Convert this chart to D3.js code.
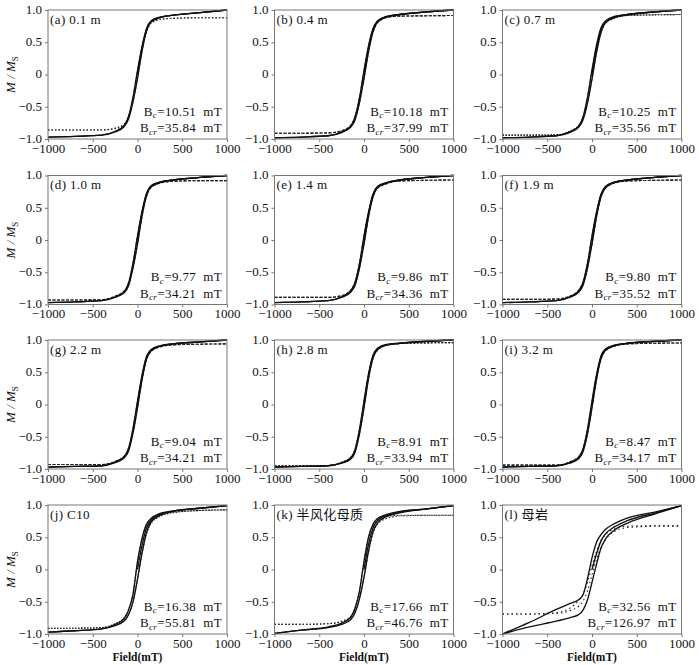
<!DOCTYPE html>
<html>
<head>
<meta charset="utf-8">
<script src="https://cdn.jsdelivr.net/npm/d3@7"></script>
<style>
body { margin: 0; background: #fff; }
text { font-family: "Liberation Serif", "Noto Sans CJK SC", serif; }
</style>
</head>
<body>
<div id="vis"></div>
<script>
// panel captions and coercivity values
const panelLabels = ['(a) 0.1 m', '(b) 0.4 m', '(c) 0.7 m', '(d) 1.0 m', '(e) 1.4 m', '(f) 1.9 m',
    '(g) 2.2 m', '(h) 2.8 m', '(i) 3.2 m', '(j) C10', '(k) 半风化母质', '(l) 母岩'];
const bcValues = ['10.51', '10.18', '10.25', '9.77', '9.86', '9.80', '9.04', '8.91', '8.47', '16.38', '17.66', '32.56'];
const bcrValues = ['35.84', '37.99', '35.56', '34.21', '34.36', '35.52', '34.21', '33.94', '34.17', '55.81', '46.76', '126.97'];

const xTicks = [-1000, -500, 0, 500, 1000];
const yTicks = [-1, -0.5, 0, 0.5, 1];

// applied field (mT) where the loop branches were read
const field = [-1000, -700, -400, -250, -150, -100, -50, 0, 50, 100, 150, 250, 400, 700, 1000];
const virginField = [0, 50, 100, 150, 250, 400, 700, 1000];

// ascending (lower) branch, M/Ms
const ascending = [
    [-0.97, -0.96, -0.94, -0.89, -0.81, -0.69, -0.42, -0.06, 0.36, 0.67, 0.81, 0.88, 0.92, 0.96, 1.00],
    [-0.98, -0.97, -0.95, -0.90, -0.82, -0.70, -0.43, -0.06, 0.35, 0.66, 0.81, 0.89, 0.93, 0.97, 1.00],
    [-0.98, -0.97, -0.95, -0.90, -0.82, -0.70, -0.44, -0.07, 0.34, 0.65, 0.80, 0.88, 0.93, 0.97, 1.00],
    [-0.97, -0.96, -0.94, -0.89, -0.82, -0.71, -0.43, -0.06, 0.37, 0.68, 0.82, 0.89, 0.93, 0.97, 1.00],
    [-0.97, -0.96, -0.94, -0.89, -0.81, -0.70, -0.43, -0.06, 0.36, 0.67, 0.81, 0.88, 0.93, 0.97, 1.00],
    [-0.97, -0.96, -0.94, -0.89, -0.81, -0.70, -0.43, -0.06, 0.36, 0.67, 0.81, 0.89, 0.93, 0.97, 1.00],
    [-0.97, -0.96, -0.95, -0.90, -0.83, -0.72, -0.44, -0.05, 0.38, 0.70, 0.83, 0.90, 0.94, 0.97, 1.00],
    [-0.97, -0.96, -0.95, -0.91, -0.85, -0.74, -0.45, -0.05, 0.40, 0.72, 0.85, 0.92, 0.95, 0.98, 1.00],
    [-0.97, -0.96, -0.95, -0.91, -0.84, -0.73, -0.45, -0.05, 0.39, 0.71, 0.84, 0.91, 0.95, 0.98, 1.00],
    [-0.97, -0.95, -0.92, -0.87, -0.80, -0.70, -0.50, -0.15, 0.25, 0.57, 0.73, 0.84, 0.90, 0.95, 0.99],
    [-0.99, -0.94, -0.90, -0.85, -0.78, -0.67, -0.45, -0.12, 0.28, 0.58, 0.72, 0.82, 0.88, 0.94, 0.99],
    [-1.00, -0.89, -0.80, -0.75, -0.70, -0.63, -0.47, -0.20, 0.08, 0.33, 0.47, 0.61, 0.72, 0.86, 0.99]
];

// descending (upper) branch, M/Ms
const descending = [
    [-0.97, -0.96, -0.94, -0.88, -0.79, -0.65, -0.35, 0.06, 0.43, 0.71, 0.83, 0.89, 0.92, 0.96, 1.00],
    [-0.98, -0.97, -0.95, -0.89, -0.80, -0.66, -0.36, 0.06, 0.44, 0.71, 0.83, 0.90, 0.93, 0.97, 1.00],
    [-0.98, -0.97, -0.95, -0.89, -0.80, -0.66, -0.35, 0.07, 0.45, 0.72, 0.83, 0.90, 0.93, 0.97, 1.00],
    [-0.97, -0.96, -0.94, -0.88, -0.80, -0.67, -0.36, 0.06, 0.44, 0.72, 0.84, 0.90, 0.93, 0.97, 1.00],
    [-0.97, -0.96, -0.94, -0.88, -0.79, -0.66, -0.36, 0.06, 0.43, 0.71, 0.83, 0.89, 0.93, 0.97, 1.00],
    [-0.97, -0.96, -0.94, -0.88, -0.79, -0.66, -0.36, 0.06, 0.43, 0.71, 0.83, 0.90, 0.93, 0.97, 1.00],
    [-0.97, -0.96, -0.95, -0.89, -0.81, -0.68, -0.37, 0.05, 0.45, 0.74, 0.85, 0.91, 0.94, 0.97, 1.00],
    [-0.97, -0.96, -0.95, -0.90, -0.83, -0.70, -0.38, 0.05, 0.47, 0.76, 0.87, 0.93, 0.95, 0.98, 1.00],
    [-0.97, -0.96, -0.95, -0.90, -0.82, -0.69, -0.38, 0.05, 0.46, 0.75, 0.86, 0.92, 0.95, 0.98, 1.00],
    [-0.97, -0.95, -0.92, -0.85, -0.76, -0.63, -0.38, 0.12, 0.48, 0.70, 0.79, 0.87, 0.91, 0.95, 0.99],
    [-0.99, -0.94, -0.89, -0.83, -0.74, -0.60, -0.33, 0.12, 0.50, 0.70, 0.79, 0.85, 0.90, 0.94, 0.99],
    [-1.00, -0.82, -0.62, -0.53, -0.47, -0.39, -0.14, 0.18, 0.42, 0.54, 0.62, 0.71, 0.80, 0.89, 0.99]
];

// initial magnetisation curve from zero field
const virgin = [
    [0, 0.40, 0.69, 0.82, 0.885, 0.92, 0.96, 1.00],
    [0, 0.40, 0.69, 0.82, 0.895, 0.93, 0.97, 1.00],
    [0, 0.40, 0.69, 0.82, 0.89, 0.93, 0.97, 1.00],
    [0, 0.41, 0.70, 0.83, 0.895, 0.93, 0.97, 1.00],
    [0, 0.40, 0.69, 0.82, 0.885, 0.93, 0.97, 1.00],
    [0, 0.40, 0.69, 0.82, 0.895, 0.93, 0.97, 1.00],
    [0, 0.42, 0.72, 0.84, 0.905, 0.94, 0.97, 1.00],
    [0, 0.44, 0.74, 0.86, 0.925, 0.95, 0.98, 1.00],
    [0, 0.43, 0.73, 0.85, 0.915, 0.95, 0.98, 1.00],
    [0, 0.37, 0.64, 0.76, 0.855, 0.905, 0.95, 0.99],
    [0, 0.39, 0.64, 0.76, 0.835, 0.89, 0.94, 0.99],
    [0, 0.24, 0.44, 0.55, 0.66, 0.76, 0.875, 0.99]
];

// paramagnetic-corrected loop, ascending and descending
const corrAscending = [
    [-0.86, -0.86, -0.86, -0.84, -0.79, -0.68, -0.42, -0.06, 0.35, 0.65, 0.79, 0.85, 0.87, 0.88, 0.88],
    [-0.91, -0.91, -0.905, -0.88, -0.81, -0.69, -0.43, -0.06, 0.34, 0.65, 0.80, 0.88, 0.905, 0.91, 0.915],
    [-0.94, -0.94, -0.935, -0.89, -0.81, -0.69, -0.44, -0.07, 0.33, 0.64, 0.79, 0.87, 0.915, 0.925, 0.93],
    [-0.93, -0.93, -0.925, -0.88, -0.81, -0.70, -0.43, -0.06, 0.36, 0.67, 0.81, 0.88, 0.91, 0.92, 0.92],
    [-0.89, -0.89, -0.89, -0.87, -0.80, -0.69, -0.43, -0.06, 0.35, 0.66, 0.80, 0.87, 0.915, 0.925, 0.93],
    [-0.92, -0.92, -0.915, -0.88, -0.80, -0.69, -0.43, -0.06, 0.35, 0.66, 0.80, 0.88, 0.915, 0.925, 0.93],
    [-0.93, -0.93, -0.93, -0.89, -0.82, -0.71, -0.44, -0.05, 0.37, 0.69, 0.82, 0.89, 0.925, 0.935, 0.94],
    [-0.95, -0.95, -0.945, -0.905, -0.84, -0.73, -0.45, -0.05, 0.39, 0.71, 0.84, 0.915, 0.945, 0.955, 0.96],
    [-0.94, -0.94, -0.94, -0.90, -0.83, -0.72, -0.45, -0.05, 0.38, 0.70, 0.83, 0.905, 0.94, 0.95, 0.955],
    [-0.91, -0.91, -0.90, -0.86, -0.79, -0.69, -0.50, -0.15, 0.24, 0.55, 0.71, 0.82, 0.88, 0.915, 0.925],
    [-0.85, -0.85, -0.84, -0.81, -0.76, -0.66, -0.45, -0.12, 0.27, 0.56, 0.70, 0.79, 0.83, 0.84, 0.84],
    [-0.69, -0.69, -0.68, -0.64, -0.57, -0.49, -0.33, -0.08, 0.16, 0.34, 0.46, 0.59, 0.65, 0.67, 0.67]
];

const corrDescending = [
    [-0.86, -0.86, -0.86, -0.83, -0.77, -0.64, -0.35, 0.06, 0.42, 0.69, 0.81, 0.86, 0.87, 0.88, 0.88],
    [-0.91, -0.91, -0.905, -0.87, -0.79, -0.65, -0.36, 0.06, 0.43, 0.70, 0.82, 0.89, 0.905, 0.91, 0.915],
    [-0.94, -0.94, -0.935, -0.88, -0.79, -0.65, -0.35, 0.07, 0.44, 0.71, 0.82, 0.89, 0.915, 0.925, 0.93],
    [-0.93, -0.93, -0.925, -0.87, -0.79, -0.66, -0.36, 0.06, 0.43, 0.71, 0.83, 0.89, 0.91, 0.92, 0.92],
    [-0.89, -0.89, -0.89, -0.86, -0.78, -0.65, -0.36, 0.06, 0.42, 0.70, 0.82, 0.88, 0.915, 0.925, 0.93],
    [-0.92, -0.92, -0.915, -0.87, -0.78, -0.65, -0.36, 0.06, 0.42, 0.70, 0.82, 0.89, 0.915, 0.925, 0.93],
    [-0.93, -0.93, -0.93, -0.88, -0.80, -0.67, -0.37, 0.05, 0.44, 0.73, 0.84, 0.90, 0.925, 0.935, 0.94],
    [-0.95, -0.95, -0.945, -0.895, -0.82, -0.69, -0.38, 0.05, 0.46, 0.75, 0.86, 0.925, 0.945, 0.955, 0.96],
    [-0.94, -0.94, -0.94, -0.89, -0.81, -0.68, -0.38, 0.05, 0.45, 0.74, 0.85, 0.915, 0.94, 0.95, 0.955],
    [-0.91, -0.91, -0.90, -0.84, -0.75, -0.62, -0.38, 0.12, 0.47, 0.68, 0.77, 0.85, 0.89, 0.915, 0.925],
    [-0.85, -0.85, -0.84, -0.80, -0.73, -0.59, -0.33, 0.12, 0.49, 0.68, 0.77, 0.82, 0.84, 0.84, 0.84],
    [-0.69, -0.69, -0.67, -0.60, -0.48, -0.38, -0.20, 0.06, 0.28, 0.45, 0.54, 0.63, 0.67, 0.68, 0.68]
];

class HysteresisGrid {
    constructor() {
        this.config = {
            width: 700,
            height: 665,
            colLeft: [48, 274.5, 502.5],
            rowTop: [10, 175.5, 340, 505],
            plotW: 179,
            plotH: 129,
        };
        // dash style of the corrected loop per panel
        this.dash = ['1.5,2', '3,1.5', '1.5,1.5', '3,1.5', '3,1.5', '3,1.5', '3,1.5', '2,1.5', '3,1.5', '1.5,1.5', '1.5,2', '1.5,3'];
        this.initVis();
    }
    initVis() {
        let vis = this;
        vis.svg = d3.select('#vis')
            .append('svg')
            .attr('width', vis.config.width)
            .attr('height', vis.config.height);
        vis.x = d3.scaleLinear().domain([-1000, 1000]).range([0, vis.config.plotW]);
        vis.y = d3.scaleLinear().domain([-1, 1]).range([vis.config.plotH, 0]);
    }
    addCoercivity(g, y, sub, value) {
        const t = g.append('text')
            .attr('x', this.config.plotW - 5)
            .attr('y', y)
            .attr('text-anchor', 'end')
            .attr('font-size', 13)
            .attr('letter-spacing', 0.4)
            .attr('fill', '#111');
        t.append('tspan').text('B');
        t.append('tspan').attr('dy', 2.5).attr('font-size', 9).attr('font-style', 'italic').text(sub);
        t.append('tspan').attr('dy', -2.5).text(`=${value}\u2002mT`);
    }
    renderVis() {
        let vis = this;
        const cfg = vis.config;
        const line = d3.line()
            .x(d => vis.x(d[0]))
            .y(d => vis.y(d[1]))
            .curve(d3.curveMonotoneX);
        const yFmt = d => d === 0 ? '0' : d3.format('.1f')(d);

        panelLabels.forEach((label, i) => {
            const row = Math.floor(i / 3), col = i % 3;
            const g = vis.svg.append('g')
                .attr('transform', `translate(${cfg.colLeft[col]},${cfg.rowTop[row]})`);

            // corrected loop (dashed / dotted)
            [corrAscending[i], corrDescending[i]].forEach(vals => {
                g.append('path')
                    .attr('d', line(field.map((f, k) => [f, vals[k]])))
                    .attr('fill', 'none')
                    .attr('stroke', '#222')
                    .attr('stroke-width', 1.1)
                    .attr('stroke-dasharray', vis.dash[i]);
            });

            // measured loop and initial curve
            [ascending[i], descending[i]].forEach(vals => {
                g.append('path')
                    .attr('d', line(field.map((f, k) => [f, vals[k]])))
                    .attr('fill', 'none')
                    .attr('stroke', '#111')
                    .attr('stroke-width', 1.35);
            });
            g.append('path')
                .attr('d', line(virginField.map((f, k) => [f, virgin[i][k]])))
                .attr('fill', 'none')
                .attr('stroke', '#111')
                .attr('stroke-width', 1.35);

            // frame
            g.append('rect')
                .attr('width', cfg.plotW)
                .attr('height', cfg.plotH)
                .attr('fill', 'none')
                .attr('stroke', '#777')
                .attr('stroke-width', 1);

            const xAxis = g.append('g')
                .attr('transform', `translate(0,${cfg.plotH})`)
                .call(d3.axisBottom(vis.x).tickValues(xTicks).tickFormat(d3.format('d')).tickSize(3).tickPadding(1.5));
            const yAxis = g.append('g')
                .call(d3.axisLeft(vis.y).tickValues(yTicks).tickFormat(yFmt).tickSize(3).tickPadding(3));
            [xAxis, yAxis].forEach(ax => {
                ax.select('.domain').remove();
                ax.selectAll('line').attr('stroke', '#777');
                ax.selectAll('text')
                    .attr('fill', '#111')
                    .style('font-family', '"Liberation Serif", serif')
                    .style('font-size', '13px');
            });
            yAxis.selectAll('text').attr('dy', '0.26em');

            g.append('text')
                .attr('x', 2)
                .attr('y', 13.5)
                .attr('font-size', 13)
                .attr('letter-spacing', 0.4)
                .attr('fill', '#111')
                .text(label);

            vis.addCoercivity(g, cfg.plotH - 23.5, 'c', bcValues[i]);
            vis.addCoercivity(g, cfg.plotH - 7, 'cr', bcrValues[i]);

            if (col === 0) {
                const yl = g.append('text')
                    .attr('transform', `translate(-33,${cfg.plotH / 2}) rotate(-90)`)
                    .attr('text-anchor', 'middle')
                    .attr('font-size', 13)
                    .attr('font-style', 'italic')
                    .attr('fill', '#111');
                yl.append('tspan').text('M / M');
                yl.append('tspan').attr('dy', 2.5).attr('font-size', 9).attr('font-style', 'normal').text('S');
            }
            if (row === 3) {
                g.append('text')
                    .attr('x', cfg.plotW / 2)
                    .attr('y', cfg.plotH + 26.5)
                    .attr('text-anchor', 'middle')
                    .attr('font-size', 11.5)
                    .attr('font-weight', 'bold')
                    .attr('fill', '#111')
                    .text('Field(mT)');
            }
        });
    }
}

const grid = new HysteresisGrid();
grid.renderVis();
</script>
</body>
</html>
